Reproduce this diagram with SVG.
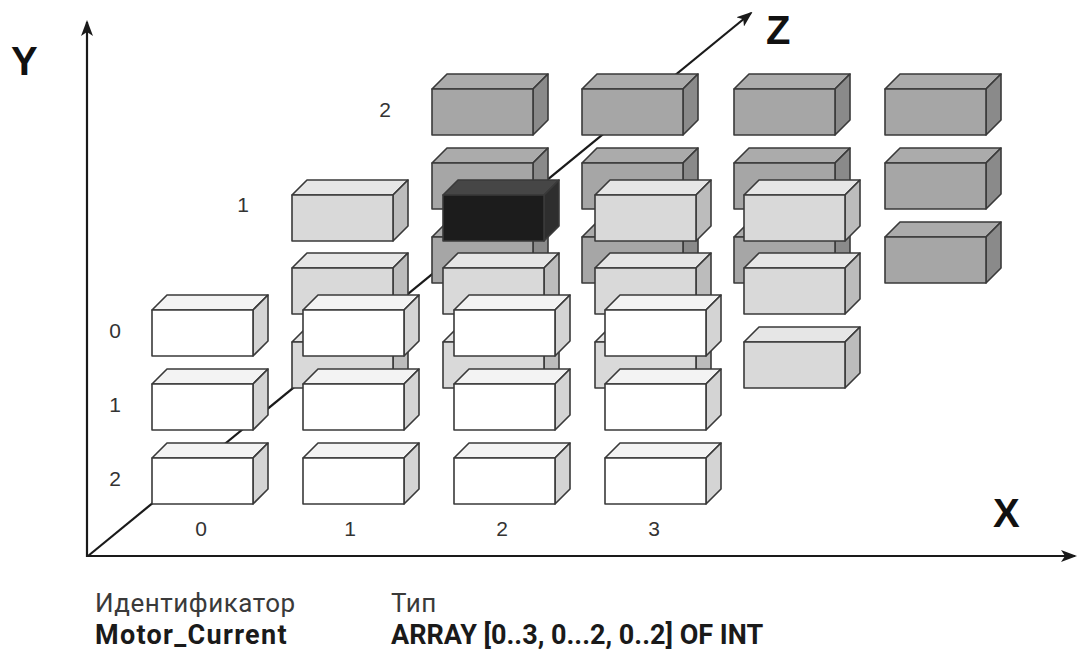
<svg xmlns="http://www.w3.org/2000/svg" xmlns:xlink="http://www.w3.org/1999/xlink" width="1078" height="652" viewBox="0 0 1078 652">
<style>
.ax{stroke:#1a1a1a;stroke-width:2.2;fill:none}
.bx{stroke:#3a3a3a;stroke-width:1.6;stroke-linejoin:round}
.t{fill:var(--t)}.s{fill:var(--s)}.f{fill:var(--f)}
.w{--f:#ffffff;--t:#f3f3f3;--s:#d4d4d4}
.l{--f:#d9d9d9;--t:#e6e6e6;--s:#bcbcbc}
.d{--f:#a6a6a6;--t:#ababab;--s:#8a8a8a}
.k{--f:#1c1c1c;--t:#464646;--s:#2e2e2e}
.ax-l{font-family:"Liberation Sans",Arial,sans-serif;font-weight:bold;font-size:40px;fill:#111}
.num{font-family:"Liberation Sans",Arial,sans-serif;font-size:21px;fill:#333;text-anchor:middle}
.cap{font-family:Roboto,"Noto Sans",sans-serif;font-size:26px;fill:#3a3a3a;letter-spacing:0.5px}
.capb{font-family:Roboto,"Noto Sans",sans-serif;font-size:27px;font-weight:bold;fill:#1a1a1a}
</style>
<defs>
<marker id="arr" markerUnits="userSpaceOnUse" markerWidth="16" markerHeight="12" viewBox="0 0 16 12" refX="14" refY="6" orient="auto">
<path d="M0,0 L16,6 L0,12 L4,6 Z" fill="#1a1a1a"/>
</marker>
<g id="box">
<polygon class="bx t" points="0,0 15,-15 116,-15 101,0"/>
<polygon class="bx s" points="101,0 116,-15 116,31 101,46"/>
<rect class="bx f" x="0" y="0" width="101" height="46"/>
</g>
</defs>
<rect width="1078" height="652" fill="#ffffff"/>
<g id="connectors">
<line class="ax" x1="88" y1="556" x2="751" y2="13" marker-end="url(#arr)"/>
<line class="ax" x1="87" y1="557" x2="87" y2="22" marker-end="url(#arr)"/>
<line class="ax" x1="86" y1="556" x2="1075" y2="556" marker-end="url(#arr)"/>
</g>
<g id="layer-z2" class="d">
<g id="b-0-0-2"><use xlink:href="#box" x="432" y="89"/></g>
<g id="b-1-0-2"><use xlink:href="#box" x="582" y="89"/></g>
<g id="b-2-0-2"><use xlink:href="#box" x="734" y="89"/></g>
<g id="b-3-0-2"><use xlink:href="#box" x="885" y="89"/></g>
<g id="b-0-1-2"><use xlink:href="#box" x="432" y="163"/></g>
<g id="b-1-1-2"><use xlink:href="#box" x="582" y="163"/></g>
<g id="b-2-1-2"><use xlink:href="#box" x="734" y="163"/></g>
<g id="b-3-1-2"><use xlink:href="#box" x="885" y="163"/></g>
<g id="b-0-2-2"><use xlink:href="#box" x="432" y="237"/></g>
<g id="b-1-2-2"><use xlink:href="#box" x="582" y="237"/></g>
<g id="b-2-2-2"><use xlink:href="#box" x="734" y="237"/></g>
<g id="b-3-2-2"><use xlink:href="#box" x="885" y="237"/></g>
</g>
<g id="layer-z1" class="l">
<g id="b-0-0-1"><use xlink:href="#box" x="292" y="195"/></g>
<g id="b-1-0-1" class="k"><use xlink:href="#box" x="443" y="195"/></g>
<g id="b-2-0-1"><use xlink:href="#box" x="595" y="195"/></g>
<g id="b-3-0-1"><use xlink:href="#box" x="744" y="195"/></g>
<g id="b-0-1-1"><use xlink:href="#box" x="292" y="268"/></g>
<g id="b-1-1-1"><use xlink:href="#box" x="443" y="268"/></g>
<g id="b-2-1-1"><use xlink:href="#box" x="595" y="268"/></g>
<g id="b-3-1-1"><use xlink:href="#box" x="744" y="268"/></g>
<g id="b-0-2-1"><use xlink:href="#box" x="292" y="342"/></g>
<g id="b-1-2-1"><use xlink:href="#box" x="443" y="342"/></g>
<g id="b-2-2-1"><use xlink:href="#box" x="595" y="342"/></g>
<g id="b-3-2-1"><use xlink:href="#box" x="744" y="342"/></g>
</g>
<g id="layer-z0" class="w">
<g id="b-0-0-0"><use xlink:href="#box" x="152" y="310"/></g>
<g id="b-1-0-0"><use xlink:href="#box" x="303" y="310"/></g>
<g id="b-2-0-0"><use xlink:href="#box" x="454" y="310"/></g>
<g id="b-3-0-0"><use xlink:href="#box" x="605" y="310"/></g>
<g id="b-0-1-0"><use xlink:href="#box" x="152" y="384"/></g>
<g id="b-1-1-0"><use xlink:href="#box" x="303" y="384"/></g>
<g id="b-2-1-0"><use xlink:href="#box" x="454" y="384"/></g>
<g id="b-3-1-0"><use xlink:href="#box" x="605" y="384"/></g>
<g id="b-0-2-0"><use xlink:href="#box" x="152" y="458"/></g>
<g id="b-1-2-0"><use xlink:href="#box" x="303" y="458"/></g>
<g id="b-2-2-0"><use xlink:href="#box" x="454" y="458"/></g>
<g id="b-3-2-0"><use xlink:href="#box" x="605" y="458"/></g>
</g>
<g id="labels">
<text class="ax-l" x="11" y="75">Y</text>
<text class="ax-l" x="766" y="44">Z</text>
<text class="ax-l" x="993" y="527">X</text>
<text class="num" x="385" y="117">2</text>
<text class="num" x="243" y="212">1</text>
<text class="num" x="115" y="338">0</text>
<text class="num" x="115" y="412">1</text>
<text class="num" x="115" y="486">2</text>
<text class="num" x="201" y="536">0</text>
<text class="num" x="350" y="536">1</text>
<text class="num" x="502" y="536">2</text>
<text class="num" x="654" y="536">3</text>
<text class="cap" x="95" y="612">Идентификатор</text>
<text class="cap" x="391" y="612">Тип</text>
<text class="capb" x="95" y="644" letter-spacing="1.3">Motor_Current</text>
<text class="capb" x="391" y="644">ARRAY [0..3, 0...2, 0..2] OF INT</text>
</g>
</svg>
